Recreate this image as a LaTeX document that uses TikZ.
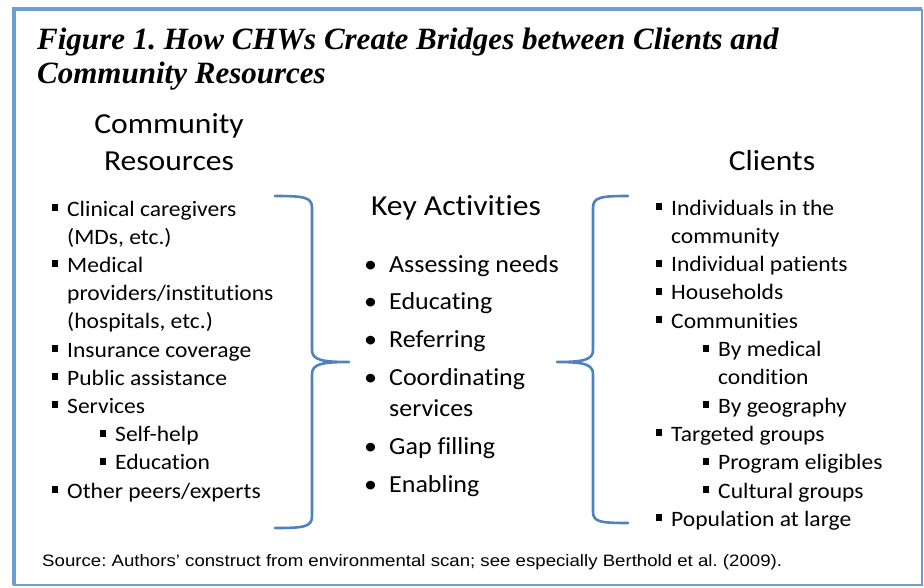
\documentclass[tikz,border=0pt]{standalone}
\usepackage{fontspec}
\setmainfont{Carlito}[Ligatures=NoCommon]
\newfontfamily\titlefont{Liberation Serif}
\newfontfamily\srcfont{Liberation Sans}
\definecolor{frameblue}{RGB}{108,158,212}
\definecolor{braceblue}{RGB}{79,129,189}
\newcommand{\sqb}{\llap{\rule[5pt]{6pt}{7pt}\hspace{8.3pt}}}
\newcommand{\dotb}{\llap{\textbullet\hspace{11.5pt}}}
\newcommand{\xs}[2]{\scalebox{#1}[1]{#2}}
\tikzset{
  body/.style={anchor=base west,inner sep=0pt,font=\fontsize{22}{25}\selectfont},
  mid/.style={anchor=base west,inner sep=0pt,font=\fontsize{24.5}{28}\selectfont},
  head/.style={anchor=base,inner sep=0pt,font=\fontsize{29}{32}\selectfont},
  ttl/.style={anchor=base west,inner sep=0pt,font=\fontsize{31}{34}\titlefont\bfseries\itshape\frenchspacing},
  src/.style={anchor=base west,inner sep=0pt,font=\fontsize{16.5}{18}\srcfont\frenchspacing},
  brace/.style={draw=braceblue,line width=2.6pt,line cap=round,line join=round}
}
\newcommand{\B}[1]{\xs{1.07}{#1}}
\newcommand{\M}[1]{\xs{1.06}{#1}}
\newcommand{\HH}[1]{\xs{1.09}{#1}}
\begin{document}
\begin{tikzpicture}[x=1pt,y=-1pt]
\useasboundingbox (0,0) rectangle (924,587);
% frame
\draw[frameblue,line width=4pt] (14,585) -- (14,9) -- (922,9);
\draw[frameblue,line width=2pt] (922,9) -- (922,585) -- (13,585);
% title
\node[ttl] (t1) at (37,49) {Figure 1. How CHWs Create Bridges between Clients and};
\node[ttl] (t2) at (37,83) {Community Resources};
% headings
\node[head] (h1) at (169,133) {\HH{Community}};
\node[head] (h2) at (169,170) {\HH{Resources}};
\node[head] (h3) at (456,215) {\HH{Key Activities}};
\node[head] (h4) at (772,170) {\HH{Clients}};
% left list
\node[body] (l1) at (67,216) {\B{\sqb Clinical caregivers}};
\node[body] (l2) at (67,244.2) {\B{(MDs, etc.)}};
\node[body] (l3) at (67,272.4) {\B{\sqb Medical}};
\node[body] (l4) at (67,300.6) {\B{providers/institutions}};
\node[body] (l5) at (67,328.8) {\B{(hospitals, etc.)}};
\node[body] (l6) at (67,357) {\B{\sqb Insurance coverage}};
\node[body] (l7) at (67,385.2) {\B{\sqb Public assistance}};
\node[body] (l8) at (67,413.4) {\B{\sqb Services}};
\node[body] (l9) at (115,441.6) {\B{\sqb Self-help}};
\node[body] (l10) at (115,469.8) {\B{\sqb Education}};
\node[body] (l11) at (67,498) {\B{\sqb Other peers/experts}};
% middle list
\node[mid] (m1) at (389,272) {\M{\dotb Assessing needs}};
\node[mid] (m2) at (389,309) {\M{\dotb Educating}};
\node[mid] (m3) at (389,347) {\M{\dotb Referring}};
\node[mid] (m4) at (389,385) {\M{\dotb Coordinating}};
\node[mid] (m5) at (389,416) {\M{services}};
\node[mid] (m6) at (389,454) {\M{\dotb Gap filling}};
\node[mid] (m7) at (389,492) {\M{\dotb Enabling}};
% right list
\node[body] (r1) at (671,215) {\B{\sqb Individuals in the}};
\node[body] (r2) at (671,243.3) {\B{community}};
\node[body] (r3) at (671,271.6) {\B{\sqb Individual patients}};
\node[body] (r4) at (671,299.9) {\B{\sqb Households}};
\node[body] (r5) at (671,328.2) {\B{\sqb Communities}};
\node[body] (r6) at (718,356.5) {\B{\sqb By medical}};
\node[body] (r7) at (718,384.8) {\B{condition}};
\node[body] (r8) at (718,413.1) {\B{\sqb By geography}};
\node[body] (r9) at (671,441.4) {\B{\sqb Targeted groups}};
\node[body] (r10) at (718,469.7) {\B{\sqb Program eligibles}};
\node[body] (r11) at (718,498) {\B{\sqb Cultural groups}};
\node[body] (r12) at (671,526.3) {\B{\sqb Population at large}};
% braces
\draw[brace] (275,196) .. controls (304,196) and (312,197) .. (312,208) -- (312,350)
  .. controls (312,360) and (322,362) .. (349,362)
  .. controls (322,362) and (312,364) .. (312,374) -- (312,516)
  .. controls (312,527) and (304,528) .. (275,528);
\draw[brace] (628,196) .. controls (601,196) and (593,197) .. (593,208) -- (593,350)
  .. controls (593,360) and (583,362) .. (557,362)
  .. controls (583,362) and (593,364) .. (593,374) -- (593,512)
  .. controls (593,522) and (601,523) .. (628,523);
% source
\node[src] (s) at (42,566) {\xs{1.13}{Source: Authors’ construct from environmental scan; see especially Berthold et al. (2009).}};
\end{tikzpicture}
\end{document}
